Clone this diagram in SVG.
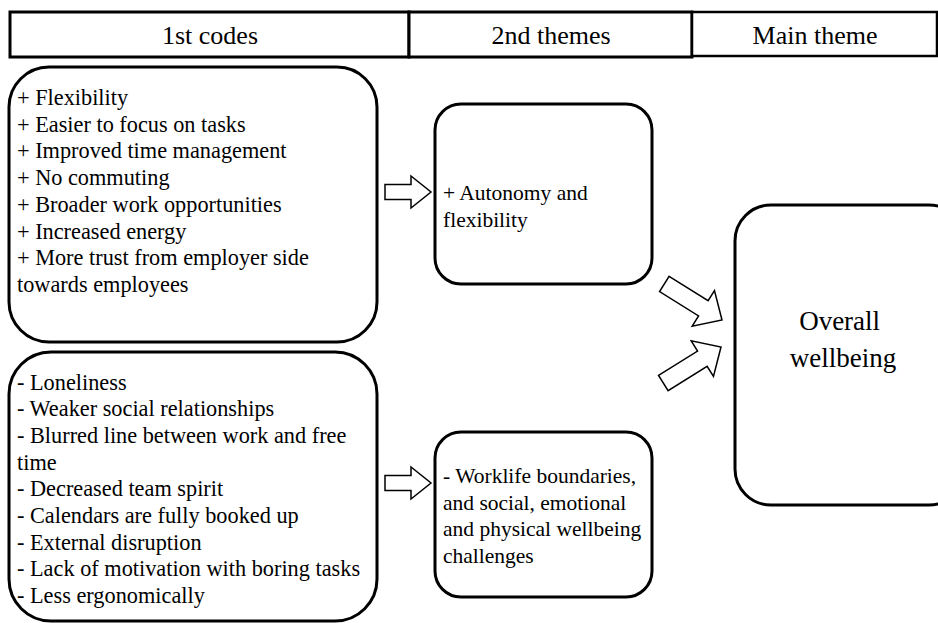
<svg xmlns="http://www.w3.org/2000/svg" width="938" height="623" viewBox="0 0 938 623">
  <style>
    .t { font-family: 'Liberation Serif', 'Times New Roman', serif; fill: #000; }
    .hdr { font-size: 26px; text-anchor: middle; }
    .item { font-size: 22.3px; }
    .theme { font-size: 21.5px; }
    .big { font-size: 27px; text-anchor: middle; }
    .box { fill: #fff; stroke: #000; stroke-width: 3; }
    .cell { fill: #fff; stroke: #000; stroke-width: 3; }
    .arrow { fill: #fff; stroke: #000; stroke-width: 1.5; stroke-linejoin: miter; }
  </style>
  <defs>
    <!-- outlined block arrow pointing right, tip at origin -->
    <polygon id="blockArrow" points="-46,-7.5 -20,-7.5 -20,-16 0,0 -20,16 -20,7.5 -46,7.5"/>
    <!-- longer slanted variant -->
    <polygon id="slantArrow" points="-68,-9 -22,-9 -22,-21 0,0 -22,21 -22,9 -68,9"/>
  </defs>
  <rect width="938" height="623" fill="#fff"/>

  <!-- column header -->
  <g id="header">
    <rect class="cell" x="10" y="12" width="399" height="45"/>
    <rect class="cell" x="409" y="12" width="283" height="45"/>
    <rect class="cell" x="692" y="12" width="245" height="44" style="stroke-width:2.5"/>
    <text class="t hdr" x="210" y="44">1st codes</text>
    <text class="t hdr" x="551" y="44">2nd themes</text>
    <text class="t hdr" x="815" y="44">Main theme</text>
  </g>

  <!-- first-level codes: positives -->
  <g id="codes-positive">
    <rect class="box" x="9" y="67" width="368" height="275" rx="40" ry="40"/>
    <text class="t item">
      <tspan x="17" y="105">+ Flexibility</tspan>
      <tspan x="17" y="131.7">+ Easier to focus on tasks</tspan>
      <tspan x="17" y="158.4">+ Improved time management</tspan>
      <tspan x="17" y="185.1">+ No commuting</tspan>
      <tspan x="17" y="211.8">+ Broader work opportunities</tspan>
      <tspan x="17" y="238.5">+ Increased energy</tspan>
      <tspan x="17" y="265.2">+ More trust from employer side</tspan>
      <tspan x="17" y="291.9">towards employees</tspan>
    </text>
  </g>

  <!-- first-level codes: negatives -->
  <g id="codes-negative">
    <rect class="box" x="9" y="352" width="368" height="269" rx="42" ry="42"/>
    <text class="t item">
      <tspan x="17" y="389.5">- Loneliness</tspan>
      <tspan x="17" y="416.2">- Weaker social relationships</tspan>
      <tspan x="17" y="442.9">- Blurred line between work and free</tspan>
      <tspan x="17" y="469.6">time</tspan>
      <tspan x="17" y="496.3">- Decreased team spirit</tspan>
      <tspan x="17" y="523">- Calendars are fully booked up</tspan>
      <tspan x="17" y="549.7">- External disruption</tspan>
      <tspan x="17" y="576.4">- Lack of motivation with boring tasks</tspan>
      <tspan x="17" y="603.1">- Less ergonomically</tspan>
    </text>
  </g>

  <!-- second-level themes -->
  <g id="theme-autonomy">
    <rect class="box" x="435" y="104" width="217" height="180" rx="26" ry="26"/>
    <text class="t theme">
      <tspan x="443" y="200">+ Autonomy and</tspan>
      <tspan x="443" y="226.5">flexibility</tspan>
    </text>
  </g>

  <g id="theme-boundaries">
    <rect class="box" x="435" y="432" width="217" height="165" rx="26" ry="26"/>
    <text class="t theme">
      <tspan x="443" y="483">- Worklife boundaries,</tspan>
      <tspan x="443" y="509.7">and social, emotional</tspan>
      <tspan x="443" y="536.4">and physical wellbeing</tspan>
      <tspan x="443" y="563.1">challenges</tspan>
    </text>
  </g>

  <!-- main theme -->
  <g id="main-wellbeing">
    <rect class="box" x="735" y="205" width="230" height="300" rx="36" ry="36"/>
    <text class="t big">
      <tspan x="843" y="330">Overall</tspan>
      <tspan x="843" y="367">wellbeing</tspan>
    </text>
  </g>

  <!-- connectors -->
  <g id="connectors">
    <use href="#blockArrow" class="arrow" transform="translate(431,192)"/>
    <use href="#blockArrow" class="arrow" transform="translate(431,483)"/>
    <use href="#slantArrow" class="arrow" transform="translate(722,320) rotate(32)"/>
    <use href="#slantArrow" class="arrow" transform="translate(721,347) rotate(-32)"/>
  </g>
</svg>
